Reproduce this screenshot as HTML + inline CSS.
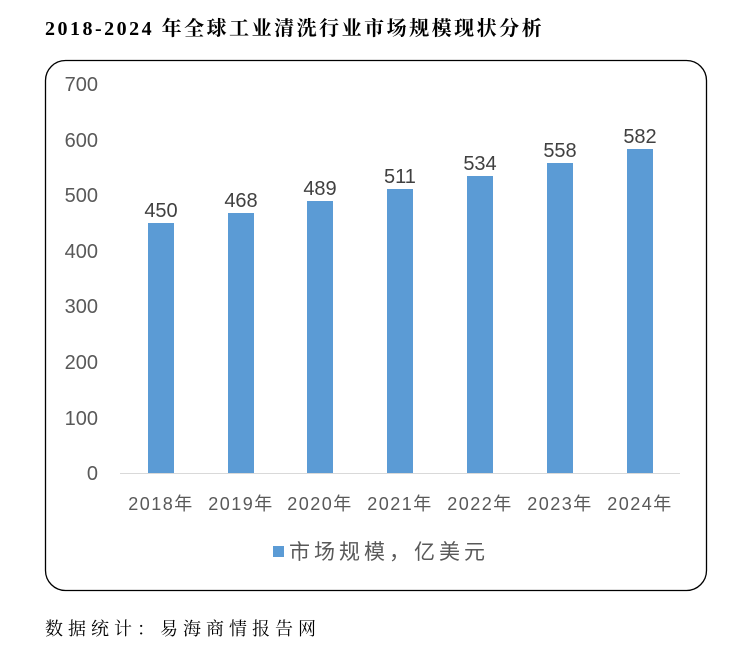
<!DOCTYPE html>
<html><head><meta charset="utf-8"><style>
body{margin:0;background:#fff;width:749px;height:645px;overflow:hidden}
</style></head><body>
<svg width="749" height="645" xmlns="http://www.w3.org/2000/svg">
<text x="45" y="35" font-family="'Liberation Serif','Noto Serif CJK SC',serif" font-size="20" font-weight="bold" letter-spacing="2.5" fill="#000">2018-2024 年全球工业清洗行业市场规模现状分析</text>
<rect x="45.5" y="60.5" width="661" height="530" rx="20" ry="20" fill="#fff" stroke="#000" stroke-width="1.3"/>
<g font-family="'Liberation Sans','Noto Sans CJK SC',sans-serif" font-size="20" fill="#595959" text-anchor="end">
<text x="98" y="91">700</text>
<text x="98" y="147">600</text>
<text x="98" y="202">500</text>
<text x="98" y="258">400</text>
<text x="98" y="313">300</text>
<text x="98" y="369">200</text>
<text x="98" y="425">100</text>
<text x="98" y="480">0</text>
</g>
<line x1="120" y1="473.5" x2="680" y2="473.5" stroke="#d9d9d9" stroke-width="1"/>
<g fill="#5b9bd5">
<rect x="148" y="223" width="26" height="250"/>
<rect x="228" y="213" width="26" height="260"/>
<rect x="307" y="201" width="26" height="272"/>
<rect x="387" y="189" width="26" height="284"/>
<rect x="467" y="176" width="26" height="297"/>
<rect x="547" y="163" width="26" height="310"/>
<rect x="627" y="149" width="26" height="324"/>
</g>
<g font-family="'Liberation Sans','Noto Sans CJK SC',sans-serif" font-size="20" fill="#404040" text-anchor="middle">
<text x="161" y="217">450</text>
<text x="241" y="207">468</text>
<text x="320" y="195">489</text>
<text x="400" y="183">511</text>
<text x="480" y="170">534</text>
<text x="560" y="157">558</text>
<text x="640" y="143">582</text>
</g>
<g font-family="'Liberation Sans','Noto Sans CJK SC',sans-serif" font-size="18" letter-spacing="1.5" fill="#595959" text-anchor="middle">
<text x="161" y="510">2018年</text>
<text x="241" y="510">2019年</text>
<text x="320" y="510">2020年</text>
<text x="400" y="510">2021年</text>
<text x="480" y="510">2022年</text>
<text x="560" y="510">2023年</text>
<text x="640" y="510">2024年</text>
</g>
<rect x="273" y="546" width="11" height="11" fill="#5b9bd5"/>
<text x="289" y="559" font-family="'Liberation Sans','Noto Sans CJK SC',sans-serif" font-size="21" letter-spacing="4" fill="#595959">市场规模，亿美元</text>
<text x="45" y="635" font-family="'Liberation Serif','Noto Serif CJK SC',serif" font-size="18" letter-spacing="5" fill="#000">数据统计：易海商情报告网</text>
</svg>
</body></html>
